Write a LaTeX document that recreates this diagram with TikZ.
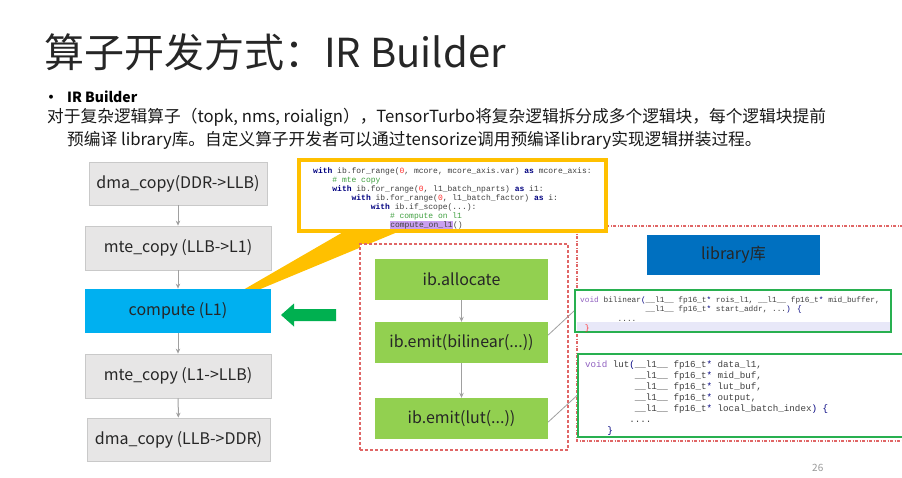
\documentclass[tikz,border=0pt]{standalone}
\usepackage{fontspec}
\setmainfont{Noto Sans CJK SC}
\newfontfamily\codefont{Liberation Mono}
\usetikzlibrary{arrows.meta}
\definecolor{boxgray}{HTML}{E7E6E6}
\definecolor{boxborder}{HTML}{C9C9C9}
\definecolor{cyanbox}{HTML}{00B0F0}
\definecolor{boxgreen}{HTML}{92D050}
\definecolor{libblue}{HTML}{0070C0}
\definecolor{calloutorange}{HTML}{FFC000}
\definecolor{arrowgreen}{HTML}{00B050}
\definecolor{codegreen}{HTML}{28B050}
\definecolor{redline}{HTML}{E06666}
\definecolor{arrowgray}{HTML}{A0A0A0}
\definecolor{txtdark}{HTML}{262626}
\definecolor{kwblue}{HTML}{000080}
\definecolor{numred}{HTML}{FF3030}
\definecolor{cmtgreen}{HTML}{40A040}
\definecolor{hlpurple}{HTML}{C9A0F0}
\definecolor{voidc}{HTML}{9060C0}
\definecolor{codetxt}{HTML}{404040}
\definecolor{linehl}{HTML}{E8E8F8}
\newcommand\kw[1]{\textcolor{kwblue}{\bfseries #1}}
\newcommand\num[1]{\textcolor{numred}{#1}}
\newcommand\cmt[1]{\textcolor{cmtgreen}{#1}}
\newcommand\ind[1]{\hspace*{#1\fontcharwd\font`x}}
\newcommand\hlt[1]{{\setlength{\fboxsep}{0.3pt}\colorbox{hlpurple}{#1}}}
\newcommand\vd{\textcolor{voidc}{void}}
\newcommand\bl[1]{\textcolor{kwblue}{#1}}
\begin{document}
\begin{tikzpicture}[x=1pt,y=-1pt,
  greybox/.style={draw=boxborder, line width=0.8pt, fill=boxgray, minimum width=186pt, minimum height=44pt, inner sep=0pt, font=\fontsize{16}{18}\selectfont, text=txtdark},
  greenbox/.style={fill=boxgreen, minimum width=173pt, minimum height=41pt, inner sep=0pt, font=\fontsize{16}{18}\selectfont, text=txtdark},
  flowarrow/.style={draw=arrowgray, line width=1pt, -{Stealth[length=5pt,width=4.5pt]}},
  linkline/.style={draw=arrowgray, line width=0.8pt},
  codebox/.style={draw=codegreen, line width=2pt, fill=white, inner sep=0pt},
  codetext/.style={anchor=north west, inner sep=0pt, align=left, text=codetxt},
  redframe/.style={draw=redline, line width=1.1pt, dash pattern=on 3pt off 2pt},
  reddashdot/.style={draw=redline, line width=1.1pt, dash pattern=on 3pt off 1.5pt on 1pt off 1.5pt}
]
\useasboundingbox (0,0) rectangle (902,477);
\fill[white] (0,0) rectangle (902,477);

% right dash-dot frame
\draw[reddashdot] (910,226) -- (577,226) -- (577,441) -- (910,441);

% callout tail
\fill[calloutorange] (345,231) -- (243,290) -- (258,290) -- (400,231) -- cycle;

% top code box
\node[draw=calloutorange, line width=4.5pt, fill=white, minimum width=307pt, minimum height=71pt, inner sep=0pt] (topbox) at (452.5,195.5) {};
\node[codetext, font=\codefont\fontsize{8}{9}\selectfont] (topcode) at (313,167) {%
\kw{with} ib.for\_range(\num{0}, mcore, mcore\_axis.var) \kw{as} mcore\_axis:\\
\ind{4}\cmt{\# mte copy}\\
\ind{4}\kw{with} ib.for\_range(\num{0}, l1\_batch\_nparts) \kw{as} i1:\\
\ind{8}\kw{with} ib.for\_range(\num{0}, l1\_batch\_factor) \kw{as} i:\\
\ind{12}\kw{with} ib.if\_scope(...):\\
\ind{16}\cmt{\# compute on l1}\\
\ind{16}\hlt{compute\_on\_l1}()};

% middle red dashed group
\node[redframe, fill=white, minimum width=208pt, minimum height=206pt, inner sep=0pt] (grp) at (464,347) {};

% left flow
\node[greybox, minimum width=178pt, minimum height=43pt] (dma1) at (178,183.5) {dma\_copy(DDR->LLB)};
\node[greybox] (mte1) at (178,248) {mte\_copy (LLB->L1)};
\node[greybox, draw=none, fill=cyanbox, text=black!85] (comp) at (178,311) {compute (L1)};
\node[greybox] (mte2) at (178,376) {mte\_copy (L1->LLB)};
\node[greybox, minimum width=183pt, minimum height=43pt] (dma2) at (178.5,439.5) {dma\_copy (LLB->DDR)};
\draw[flowarrow] (dma1) -- (mte1);
\draw[flowarrow] (mte1) -- (comp);
\draw[flowarrow] (comp) -- (mte2);
\draw[flowarrow] (mte2) -- (dma2);

% green arrow
\fill[arrowgreen] (336,309) -- (294,309) -- (294,303.5) -- (281,315) -- (294,326.5) -- (294,321) -- (336,321) -- cycle;

% green boxes
\node[greenbox] (alloc) at (461.5,279.5) {ib.allocate};
\node[greenbox] (ebil) at (461.5,342.5) {ib.emit(bilinear(...))};
\node[greenbox] (elut) at (461.5,418.5) {ib.emit(lut(...))};
\draw[flowarrow] (alloc) -- (ebil);
\draw[flowarrow] (ebil) -- (elut);

% library box
\node[fill=libblue, minimum width=173pt, minimum height=40pt, inner sep=0pt, font=\fontsize{16}{18}\selectfont, text=black!85] (lib) at (733.5,255) {library库};

% bilinear code
\node[codebox, minimum width=316pt, minimum height=42pt] (bilbox) at (733,311) {};
\fill[linehl] (577,322) rectangle (889.5,331);
\node[codetext, font=\codefont\fontsize{7.8}{9.4}\selectfont] (bilcode) at (580,296.5) {%
\vd{} bilinear\bl{(}\_\_l1\_\_ fp16\_t\bl{*} rois\_l1, \_\_l1\_\_ fp16\_t\bl{*} mid\_buffer,\\
\ind{14}\_\_l1\_\_ fp16\_t\bl{*} start\_addr, ...\bl{)} \bl{\{}\\
\ind{8}....\\
\ind{1}\textcolor{numred}{\}}};

% lut code
\node[codebox, minimum width=332pt, minimum height=83pt] (lutbox) at (744,395.5) {};
\node[codetext, font=\codefont\fontsize{9.2}{11}\selectfont] (lutcode) at (585,360.5) {%
\vd{} lut\bl{(}\_\_l1\_\_ fp16\_t\bl{*} data\_l1,\\
\ind{9}\_\_l1\_\_ fp16\_t\bl{*} mid\_buf,\\
\ind{9}\_\_l1\_\_ fp16\_t\bl{*} lut\_buf,\\
\ind{9}\_\_l1\_\_ fp16\_t\bl{*} output,\\
\ind{9}\_\_l1\_\_ fp16\_t\bl{*} local\_batch\_index\bl{)} \bl{\{}\\
\ind{8}....\\
\ind{4}\bl{\}}};

% links
\draw[linkline] ([yshift=7.5pt]ebil.east) -- (bilbox.west);
\draw[linkline] ([yshift=-3.5pt]elut.east) -- (lutbox.west);

% texts
\node[anchor=west, inner sep=0pt, font=\fontsize{40}{44}\selectfont, text=black!85] (title) at (44,52) {算子开发方式：IR Builder};
\node[anchor=west, inner sep=0pt, font=\fontsize{14}{16}\selectfont, text=black] (bullet) at (44,97) {\textbf{•}\hspace{9pt}\bfseries IR Builder};
\node[anchor=west, inner sep=0pt, font=\fontsize{16.7}{19}\selectfont, text=black!90] (line1) at (47,117) {对于复杂逻辑算子（topk, nms, roialign），TensorTurbo将复杂逻辑拆分成多个逻辑块，每个逻辑块提前};
\node[anchor=west, inner sep=0pt, font=\fontsize{16.7}{19}\selectfont, text=black!90] (line2) at (67,140) {预编译 library库。自定义算子开发者可以通过tensorize调用预编译library实现逻辑拼装过程。};
\node[anchor=west, inner sep=0pt, font=\fontsize{10}{12}\selectfont, text=black!40] (pnum) at (812,468) {26};
\end{tikzpicture}
\end{document}
